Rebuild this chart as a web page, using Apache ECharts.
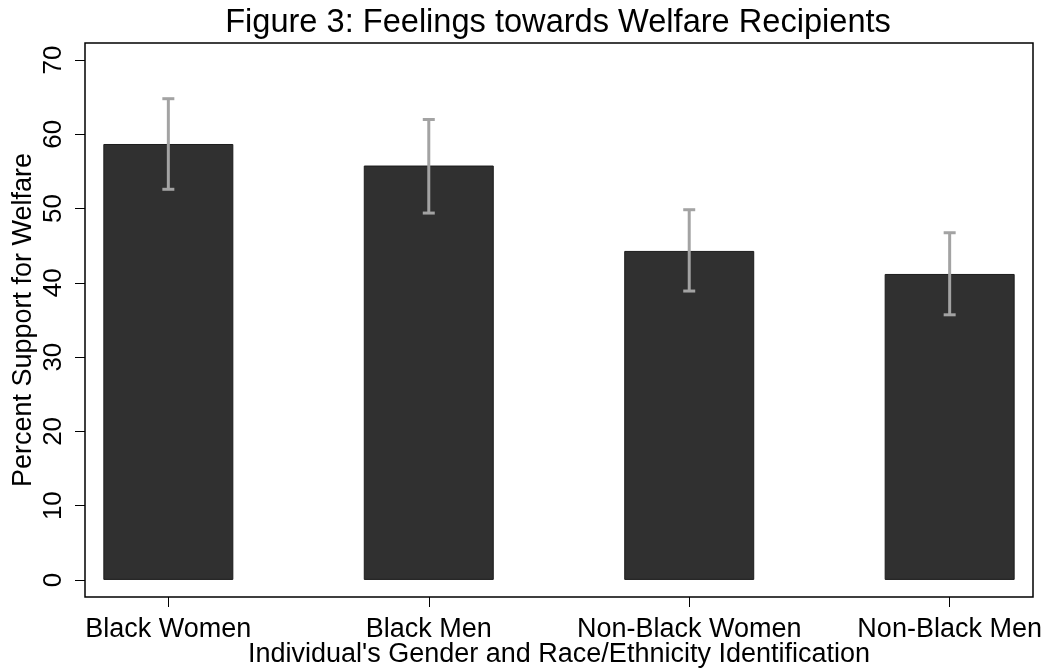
<!DOCTYPE html>
<html>
<head>
<meta charset="utf-8">
<style>
  html, body { margin: 0; padding: 0; background: #fff; }
  #chart { width: 1047px; height: 668px; }
</style>
<script src="https://cdn.jsdelivr.net/npm/echarts@6/dist/echarts.min.js"></script>
</head>
<body>
<div id="chart"></div>
<script>
// Group labels along the x axis
const categories = ['Black Women', 'Black Men', 'Non-Black Women', 'Non-Black Men'];
// Mean percent support for welfare per group
const support = [58.7, 55.8, 44.3, 41.2];
// 95% confidence interval bounds
const ciLow = [52.6, 49.4, 38.9, 35.7];
const ciHigh = [64.8, 62.0, 49.85, 46.75];
// Y axis tick values
const yTicks = [0, 10, 20, 30, 40, 50, 60, 70];

const FONT = '"Liberation Sans", Arial, Helvetica, sans-serif';
const positions = categories.map((_, i) => i);

const chart = echarts.init(document.getElementById('chart'), null, { renderer: 'canvas' });

chart.setOption({
  backgroundColor: '#ffffff',
  animation: false,
  title: {
    text: 'Figure 3: Feelings towards Welfare Recipients',
    left: 553,
    top: 2,
    textAlign: 'center',
    textStyle: { fontFamily: FONT, fontSize: 32.6, fontWeight: 'normal', color: '#000' }
  },
  grid: {
    left: 85, right: 14, top: 43, bottom: 71,
    outerBoundsMode: 'none',
    containLabel: false,
    show: true,
    borderColor: '#000',
    borderWidth: 1.5,
    backgroundColor: '#fff'
  },
  xAxis: {
    type: 'value',
    min: -0.32,
    max: 3.32,
    name: "Individual's Gender and Race/Ethnicity Identification",
    nameLocation: 'middle',
    nameGap: 44,
    nameMoveOverlap: false,
    nameTextStyle: { fontFamily: FONT, fontSize: 27, color: '#000' },
    axisLine: { show: false, onZero: false },
    splitLine: { show: false },
    axisTick: {
      show: true, length: 10, inside: false,
      customValues: positions,
      lineStyle: { color: '#000', width: 1 }
    },
    axisLabel: {
      customValues: positions,
      margin: 19,
      fontFamily: FONT, fontSize: 27, color: '#000',
      formatter: v => categories[Math.round(v)]
    }
  },
  yAxis: {
    type: 'value',
    min: -2.3,
    max: 72.3,
    name: 'Percent Support for Welfare',
    nameLocation: 'middle',
    nameGap: 48,
    nameMoveOverlap: false,
    nameTextStyle: { fontFamily: FONT, fontSize: 27, color: '#000' },
    axisLine: { show: false, onZero: false },
    splitLine: { show: false },
    axisTick: {
      show: true, length: 10, inside: false,
      customValues: yTicks,
      lineStyle: { color: '#000', width: 1 }
    },
    axisLabel: {
      customValues: yTicks,
      rotate: 90,
      margin: 18,
      fontFamily: FONT, fontSize: 26, color: '#000'
    }
  },
  series: [
    {
      type: 'bar',
      data: positions.map((p, i) => [p, support[i]]),
      barWidth: 130,
      itemStyle: { color: '#303030', borderColor: '#1c1c1c', borderWidth: 1 },
      z: 2
    },
    {
      type: 'custom',
      z: 3,
      data: positions.map((p, i) => [p, ciLow[i], ciHigh[i]]),
      renderItem: function (params, api) {
        const x = api.value(0);
        const lo = api.coord([x, api.value(1)]);
        const hi = api.coord([x, api.value(2)]);
        const half = 6;
        const style = { stroke: '#a3a3a3', lineWidth: 3 };
        return {
          type: 'group',
          children: [
            { type: 'line', shape: { x1: lo[0], y1: lo[1], x2: hi[0], y2: hi[1] }, style },
            { type: 'line', shape: { x1: hi[0] - half, y1: hi[1], x2: hi[0] + half, y2: hi[1] }, style },
            { type: 'line', shape: { x1: lo[0] - half, y1: lo[1], x2: lo[0] + half, y2: lo[1] }, style }
          ]
        };
      }
    }
  ]
});
</script>
</body>
</html>
